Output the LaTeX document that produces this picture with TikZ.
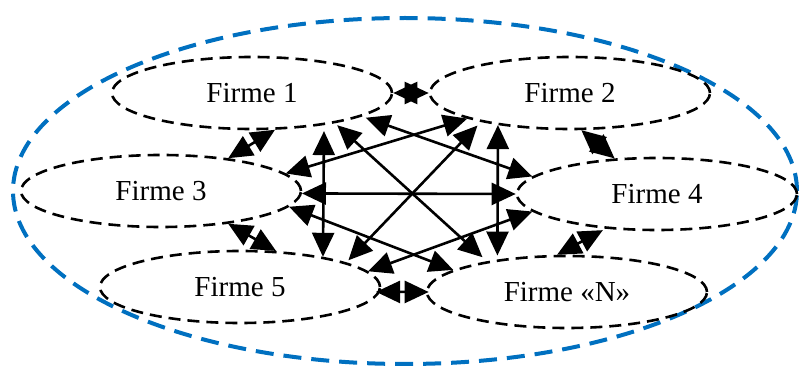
\documentclass[tikz,border=0pt]{standalone}
\usepackage{fontspec}
\setmainfont{Liberation Serif}
\usetikzlibrary{arrows.meta,shapes.geometric}
\definecolor{ringblue}{RGB}{0,112,192}
\begin{document}
\begin{tikzpicture}[x=0.5pt,y=-0.5pt,
  firm/.style={ellipse, draw, line width=1.3pt, dash pattern=on 6pt off 3.5pt,
    minimum width=140pt, minimum height=36pt, inner sep=0pt,
    font=\fontsize{14.5}{16}\selectfont},
  ring/.style={ellipse, draw=ringblue, line width=2pt, dash pattern=on 9pt off 5pt,
    minimum width=392pt, minimum height=173pt, inner sep=0pt},
  link/.style={line width=1.3pt,
    {Triangle[length=12pt,width=11pt]}-{Triangle[length=12pt,width=11pt]}}]
\useasboundingbox (0,0) rectangle (800,369);
\node[ring] (outer) at (405,191) {};
\node[firm] (f1) at (252,93) {Firme 1};
\node[firm] (f2) at (570,93) {Firme 2};
\node[firm] (f3) at (161,191) {Firme 3};
\node[firm] (f4) at (657,194) {Firme 4};
\node[firm] (f5) at (240,287) {Firme 5};
\node[firm] (fN) at (567,292) {Firme «N»};
% neighbours
\draw[link] (f1.0) -- (f2.180);
\draw[link] (f1.-58) -- (f3.26.6);
\draw[link] (f2.-73) -- (f4.140.7);
\draw[link] (f3.-26.9) -- (f5.45.9);
\draw[link, shorten <=1.5pt] (f4.214.9) -- (fN.105.5);
\draw[link, shorten <=-2pt, shorten >=-1.5pt] (f5.-2) -- (fN.180);
% central links
\draw[link, shorten <=3pt] (f1.-24.5) -- (f5.20.2);
\draw[link, shorten >=2pt] (f2.-156.3) -- (fN.155.4);
\draw[link] (f3.-1) -- (f4.180);
\draw[link, shorten <=1.5pt, shorten >=3pt] (f1.-20.1) -- (fN.159.7);
\draw[link, shorten <=2.5pt, shorten >=1.5pt] (f2.-162) -- (f5.13);
\draw[link, shorten <=2pt] (f1.-12) -- (f4.172.2);
\draw[link] (f3.8.6) -- (f2.-166.6);
\draw[link] (f3.-7.8) -- (fN.169.2);
\draw[link] (f5.7.6) -- (f4.-172.3);
\end{tikzpicture}
\end{document}
